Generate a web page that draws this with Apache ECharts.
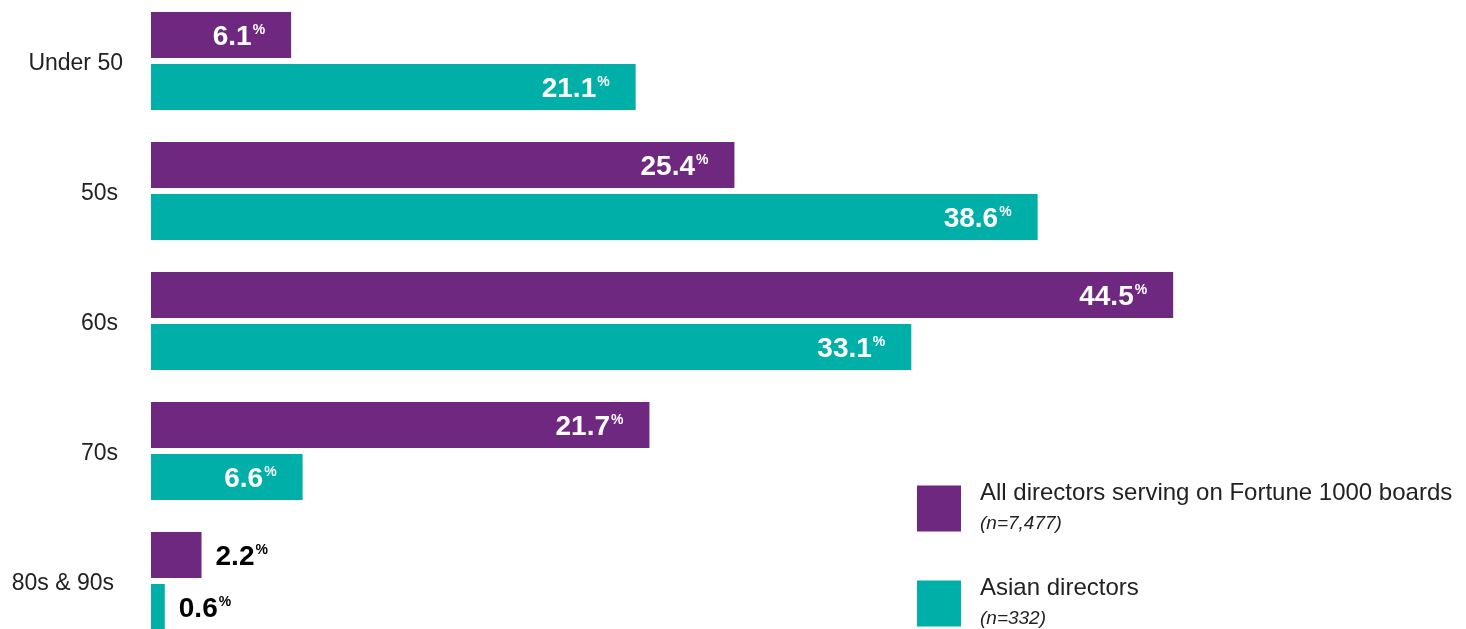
<!DOCTYPE html>
<html>
<head>
<meta charset="utf-8">
<script src="https://cdn.jsdelivr.net/npm/echarts@6/dist/echarts.min.js"></script>
<style>
  html, body { margin: 0; padding: 0; background: #fff; }
  #chart { width: 1466px; height: 629px; }
</style>
</head>
<body>
<div id="chart"></div>
<script>
// Age groups of board directors
const ageGroups = ['Under 50', '50s', '60s', '70s', '80s & 90s'];
const allDirectors = [6.1, 25.4, 44.5, 21.7, 2.2];
const asianDirectors = [21.1, 38.6, 33.1, 6.6, 0.6];
const seriesNames = ['All directors serving on Fortune 1000 boards', 'Asian directors'];
const seriesCounts = ['(n=7,477)', '(n=332)'];

const PURPLE = '#6f2880';
const TEAL = '#00afa8';
const FONT = '"Liberation Sans", Arial, sans-serif';

// Extra right-hand indent of each category label, in px
const labelIndent = [0, 5, 5, 5, 9];

// Bars too short to hold their value get the label outside, in black
const OUTSIDE_BELOW = 5;

function makeData(values) {
  return values.map(v => v < OUTSIDE_BELOW
    ? { value: v, label: { position: 'right', distance: 14, color: '#000' } }
    : { value: v });
}

const valueLabel = {
  show: true,
  position: 'insideRight',
  distance: 26,
  offset: [0, 2],
  color: '#fff',
  formatter: p => '{n|' + p.value.toFixed(1) + '}{p|%}',
  rich: {
    n: { fontFamily: FONT, fontSize: 28, fontWeight: 'bold' },
    p: { fontFamily: FONT, fontSize: 14, fontWeight: 'bold', padding: [0, 0, 13, 1] }
  }
};

// Category label styles, one per indent
const catRich = {};
labelIndent.forEach((pad, i) => {
  catRich['c' + i] = { fontFamily: FONT, fontSize: 23, color: '#222', padding: [6, pad, 0, 0] };
});

// One legend block per series, stacked under each other
function legendBlock(i, top) {
  return {
    orient: 'vertical',
    left: 917,
    top: top,
    padding: 0,
    itemWidth: 44,
    itemHeight: 46,
    icon: 'rect',
    selectedMode: false,
    formatter: name => '{t|' + name + '}\n{s|' + seriesCounts[seriesNames.indexOf(name)] + '}',
    textStyle: {
      rich: {
        t: { fontFamily: FONT, fontSize: 24, color: '#222', lineHeight: 31, padding: [0, 0, 0, 14] },
        s: { fontFamily: FONT, fontSize: 19, fontStyle: 'italic', color: '#222', lineHeight: 31, padding: [0, 0, 0, 14] }
      }
    },
    data: [seriesNames[i]]
  };
}

const chart = echarts.init(document.getElementById('chart'));
chart.setOption({
  animation: false,
  grid: { left: 151, width: 1148.5, top: -4, height: 650, outerBoundsMode: 'none', containLabel: false },
  xAxis: {
    type: 'value', min: 0, max: 50,
    show: false
  },
  yAxis: {
    type: 'category',
    data: ageGroups,
    inverse: true,
    axisLine: { show: false },
    axisTick: { show: false },
    axisLabel: {
      margin: 28,
      formatter: (v, i) => '{c' + i + '|' + v + '}',
      rich: catRich
    }
  },
  legend: [legendBlock(0, 481), legendBlock(1, 576)],
  series: [
    {
      name: seriesNames[0],
      type: 'bar',
      data: makeData(allDirectors),
      barWidth: 46,
      barGap: '13%',
      itemStyle: { color: PURPLE },
      label: valueLabel
    },
    {
      name: seriesNames[1],
      type: 'bar',
      data: makeData(asianDirectors),
      barWidth: 46,
      barGap: '13%',
      itemStyle: { color: TEAL },
      label: valueLabel
    }
  ]
});
</script>
</body>
</html>
